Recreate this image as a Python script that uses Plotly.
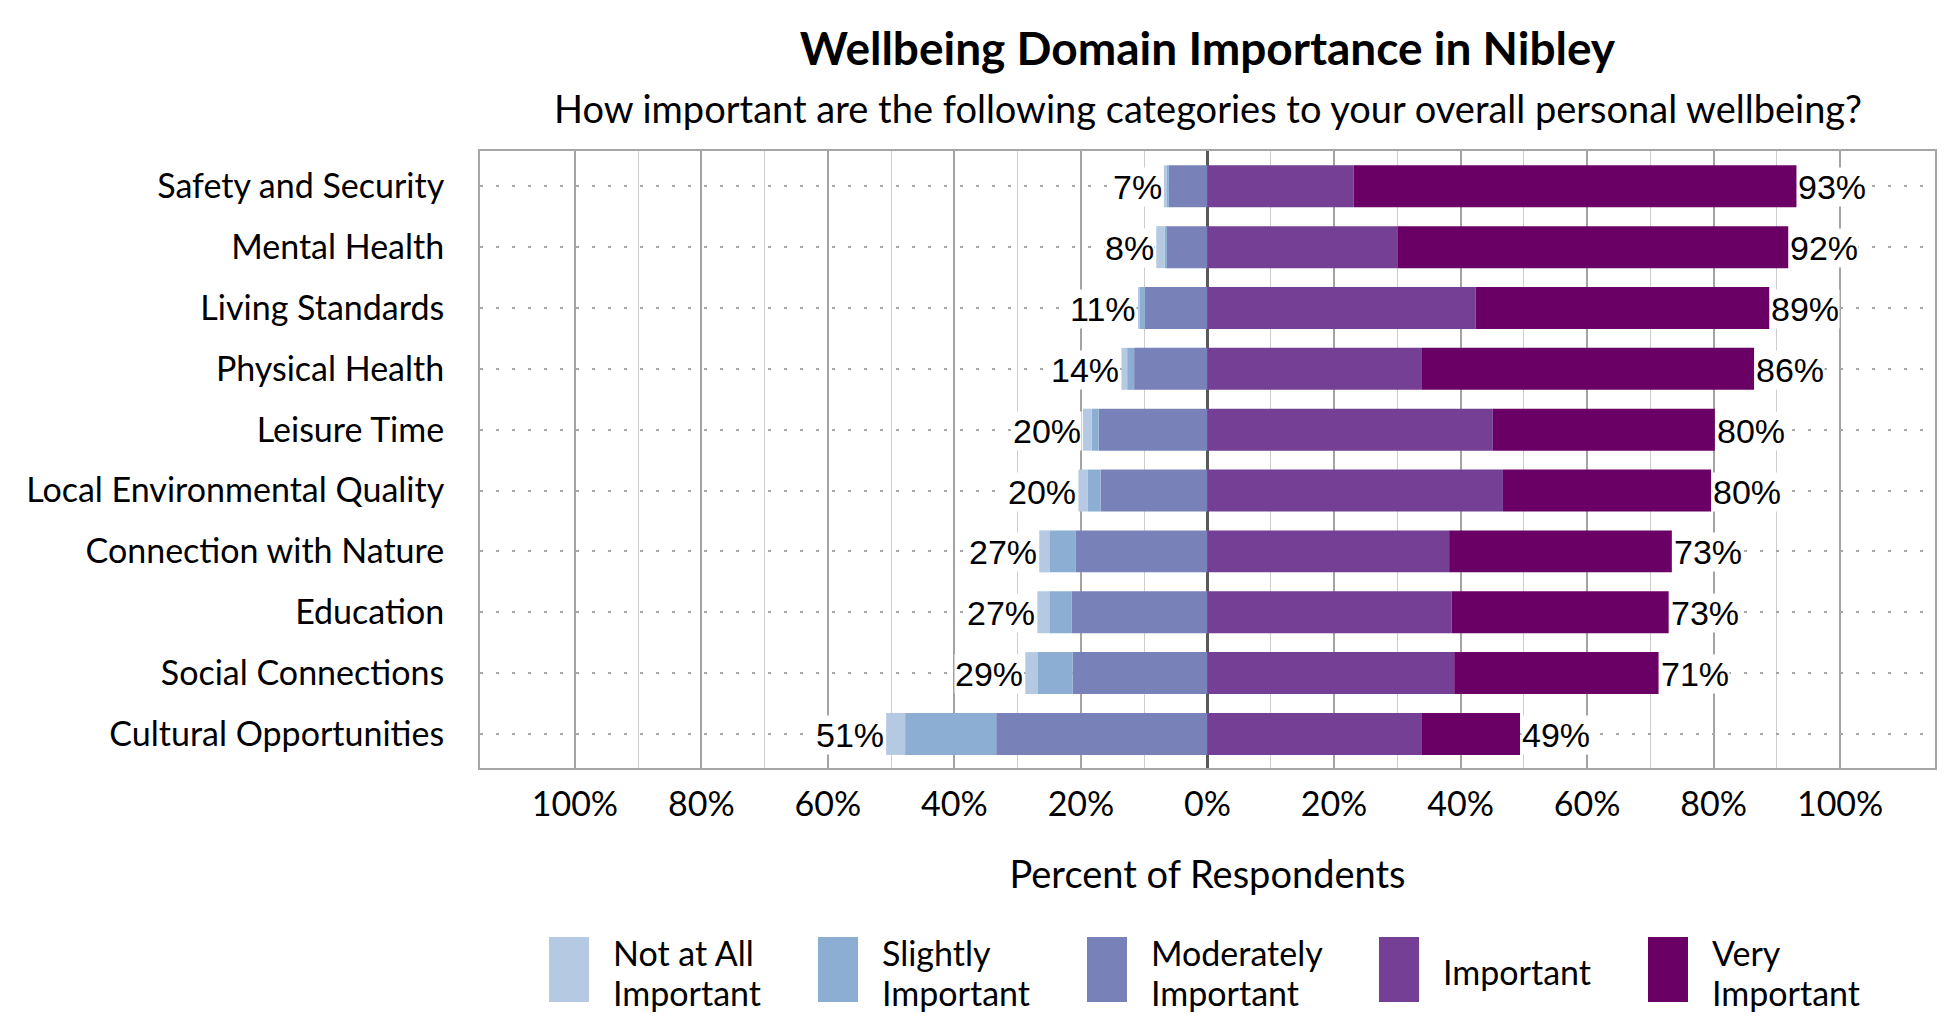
import plotly.graph_objects as go

# Survey data (percent of respondents)
categories = [
    "Safety and Security",
    "Mental Health",
    "Living Standards",
    "Physical Health",
    "Leisure Time",
    "Local Environmental Quality",
    "Connection with Nature",
    "Education",
    "Social Connections",
    "Cultural Opportunities",
]
not_at_all = [0.4, 1.3, 0.3, 0.9, 1.4, 1.5, 1.6, 1.9, 1.9, 3.0]
slightly = [0.4, 0.3, 0.8, 1.1, 1.1, 2.0, 4.2, 3.5, 5.6, 14.4]
moderately = [6.1, 6.5, 9.9, 11.6, 17.2, 16.9, 20.8, 21.5, 21.3, 33.4]
important = [23.1, 30.1, 42.4, 33.9, 45.1, 46.7, 38.2, 38.6, 39.0, 33.9]
very_important = [70.0, 61.7, 46.4, 52.5, 35.1, 32.9, 35.2, 34.3, 32.3, 15.5]

level_names = ["Not at All<br>Important", "Slightly<br>Important",
               "Moderately<br>Important", "Important", "Very<br>Important"]
level_colors = ["#B5CAE2", "#8DAED3", "#7982B8", "#753F95", "#6A0065"]

tick_values = [-100, -80, -60, -40, -20, 0, 20, 40, 60, 80, 100]
minor_values = [-90, -70, -50, -30, -10, 10, 30, 50, 70, 90]

W, H = 1950, 1020
L, R, T, B = 472, 23, 143, 260
PW, PH = W - L - R, H - T - B

TXT = "Lato"
LBL = "Liberation Sans"

fig = go.Figure()

# negative side first: closest to zero goes first
neg = [(moderately, 2), (slightly, 1), (not_at_all, 0)]
for vals, i in neg:
    fig.add_trace(go.Bar(y=categories, x=[-v for v in vals], orientation="h",
                         marker_color=level_colors[i], marker_line_width=0,
                         name=level_names[i], showlegend=False, width=0.69))
for vals, i in [(important, 3), (very_important, 4)]:
    fig.add_trace(go.Bar(y=categories, x=vals, orientation="h",
                         marker_color=level_colors[i], marker_line_width=0,
                         name=level_names[i], showlegend=False, width=0.69))

# totals as labels at the end of each side
left_tot = [a + b + c for a, b, c in zip(not_at_all, slightly, moderately)]
right_tot = [a + b for a, b in zip(important, very_important)]
for cat, lt, rt in zip(categories, left_tot, right_tot):
    fig.add_annotation(x=-lt, y=cat, text=f"{round(lt)}%", showarrow=False,
                       xanchor="right", yanchor="middle", xshift=-1, yshift=-1,
                       bgcolor="white", borderpad=0,
                       font=dict(family=LBL, size=34, color="black"))
    fig.add_annotation(x=rt, y=cat, text=f"{round(rt)}%", showarrow=False,
                       xanchor="left", yanchor="middle", xshift=1, yshift=-1,
                       bgcolor="white", borderpad=0,
                       font=dict(family=LBL, size=34, color="black"))


def px_x(p):
    return (p - L) / PW


def px_y(p):
    return (H - B - p) / PH


# custom legend: big colour boxes with one- or two-line labels
box_lefts = [541, 810, 1079, 1371, 1640]
for name, col, bx in zip(level_names, level_colors, box_lefts):
    fig.add_shape(type="rect", xref="paper", yref="paper",
                  x0=px_x(bx), x1=px_x(bx + 40), y0=px_y(929), y1=px_y(994),
                  fillcolor=col, line_width=0)
    lines = name.split("<br>")
    ys = [963] if len(lines) == 1 else [944, 984]
    for line, yy in zip(lines, ys):
        fig.add_annotation(xref="paper", yref="paper", x=px_x(bx + 62), y=px_y(yy),
                           text=line, showarrow=False, xanchor="left", yanchor="middle",
                           font=dict(family=TXT, size=34, color="black"))

# subtitle
fig.add_annotation(xref="paper", yref="paper", x=0.5, y=px_y(100),
                   text="How important are the following categories to your overall personal wellbeing?",
                   showarrow=False, xanchor="center", yanchor="middle",
                   font=dict(family=TXT, size=38, color="black"))

fig.update_layout(
    width=W, height=H,
    margin=dict(l=L, r=R, t=T, b=B),
    barmode="relative",
    plot_bgcolor="white", paper_bgcolor="white",
    font=dict(family=TXT, color="black"),
    title=dict(text="<b>Wellbeing Domain Importance in Nibley</b>",
               x=(L + PW / 2) / W, xanchor="center", xref="container",
               y=1 - 41 / H, yanchor="middle", yref="container",
               font=dict(family=TXT, size=46, color="black")),
)

fig.update_xaxes(
    range=[-115, 115],
    tickvals=tick_values,
    ticktext=[f"{abs(v)}%" for v in tick_values],
    tickfont=dict(family=TXT, size=34, color="black"),
    ticks="", ticklabelstandoff=5,
    showgrid=True, gridcolor="#A3A3A3", gridwidth=2,
    minor=dict(tickvals=minor_values, showgrid=True, gridcolor="#CDCDCD", gridwidth=1),
    zeroline=True, zerolinecolor="#595959", zerolinewidth=3,
    showline=True, linecolor="#A6A6A6", linewidth=2, mirror=True,
    title=dict(text="Percent of Respondents", standoff=40,
               font=dict(family=TXT, size=38, color="black")),
)

fig.update_yaxes(
    categoryorder="array", categoryarray=categories,
    range=[9.56, -0.58],
    tickfont=dict(family=TXT, size=34, color="black"),
    ticks="", ticklabelstandoff=27,
    showgrid=True, gridcolor="#A6A6A6", gridwidth=2, griddash="3px,13px",
    showline=True, linecolor="#A6A6A6", linewidth=2, mirror=True,
)

fig.write_html("out.html")
